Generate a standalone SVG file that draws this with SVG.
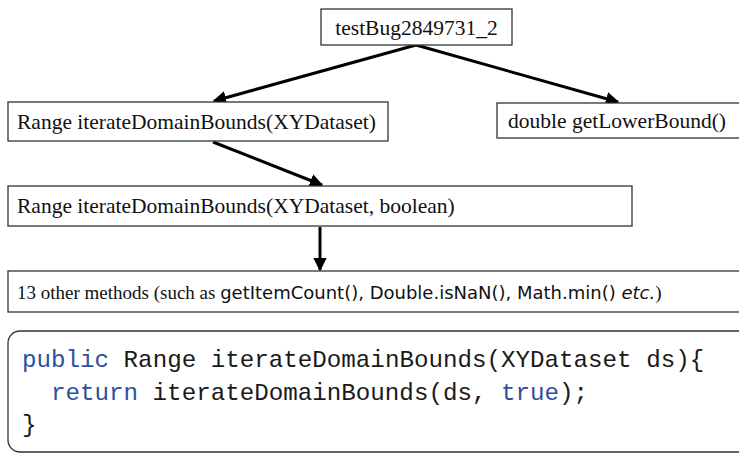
<svg xmlns="http://www.w3.org/2000/svg" width="739" height="454" viewBox="0 0 739 454">
<defs>
<marker id="ah" viewBox="0 0 10 10" refX="9" refY="5" markerWidth="4.5" markerHeight="4.5" orient="auto" markerUnits="strokeWidth">
<path d="M0,0 L10,5 L0,10 z" fill="#000"/>
</marker>
<style>
.box{fill:#fff;stroke:#333;stroke-width:1.3}
.t{font-family:"Liberation Serif","Times New Roman",serif;font-size:21.5px;fill:#111}
.s{font-family:"DejaVu Sans","Liberation Sans",sans-serif;fill:#111}
.code{font-family:"Liberation Mono","DejaVu Sans Mono",monospace;font-size:24.2px;fill:#1a1a1a}
.kw{fill:#2d4f9e}
.edge{stroke:#000;stroke-width:3;fill:none;marker-end:url(#ah)}
</style>
</defs>
<rect width="739" height="454" fill="#fff"/>
<g id="connectors">
<line class="edge" x1="416" y1="45" x2="214" y2="101"/>
<line class="edge" x1="416" y1="45" x2="618" y2="102"/>
<line class="edge" x1="213" y1="142" x2="322" y2="185"/>
<line class="edge" x1="320" y1="227" x2="320" y2="270"/>
</g>
<g id="n1">
<rect class="box" x="321" y="9" width="191" height="36"/>
<text class="t" x="416.5" y="35" text-anchor="middle">testBug2849731_2</text>
</g>
<g id="n2">
<rect class="box" x="8" y="102" width="380" height="39"/>
<text class="t" x="17" y="129">Range iterateDomainBounds(XYDataset)</text>
</g>
<g id="n3">
<rect class="box" x="497" y="103" width="250" height="35"/>
<text class="t" x="617" y="128" text-anchor="middle">double getLowerBound()</text>
</g>
<g id="n4">
<rect class="box" x="8" y="186" width="624" height="40"/>
<text class="t" x="17" y="213">Range iterateDomainBounds(XYDataset, boolean)</text>
</g>
<g id="n5">
<rect class="box" x="8" y="271" width="740" height="41"/>
<text class="t" x="17" y="299" style="font-size:19px">13 other methods (such as <tspan class="s" style="font-size:18px">getItemCount(), Double.isNaN(), Math.min() <tspan font-style="italic">etc.</tspan></tspan>)</text>
</g>
<g id="code">
<rect x="8" y="331" width="750" height="121" rx="12" ry="12" fill="#fff" stroke="#333" stroke-width="1.3"/>
<text class="code" x="22" y="367"><tspan class="kw">public</tspan> Range iterateDomainBounds(XYDataset ds){</text>
<text class="code" x="51" y="400"><tspan class="kw">return</tspan> iterateDomainBounds(ds, <tspan class="kw">true</tspan>);</text>
<text class="code" x="22" y="432">}</text>
</g>
</svg>
